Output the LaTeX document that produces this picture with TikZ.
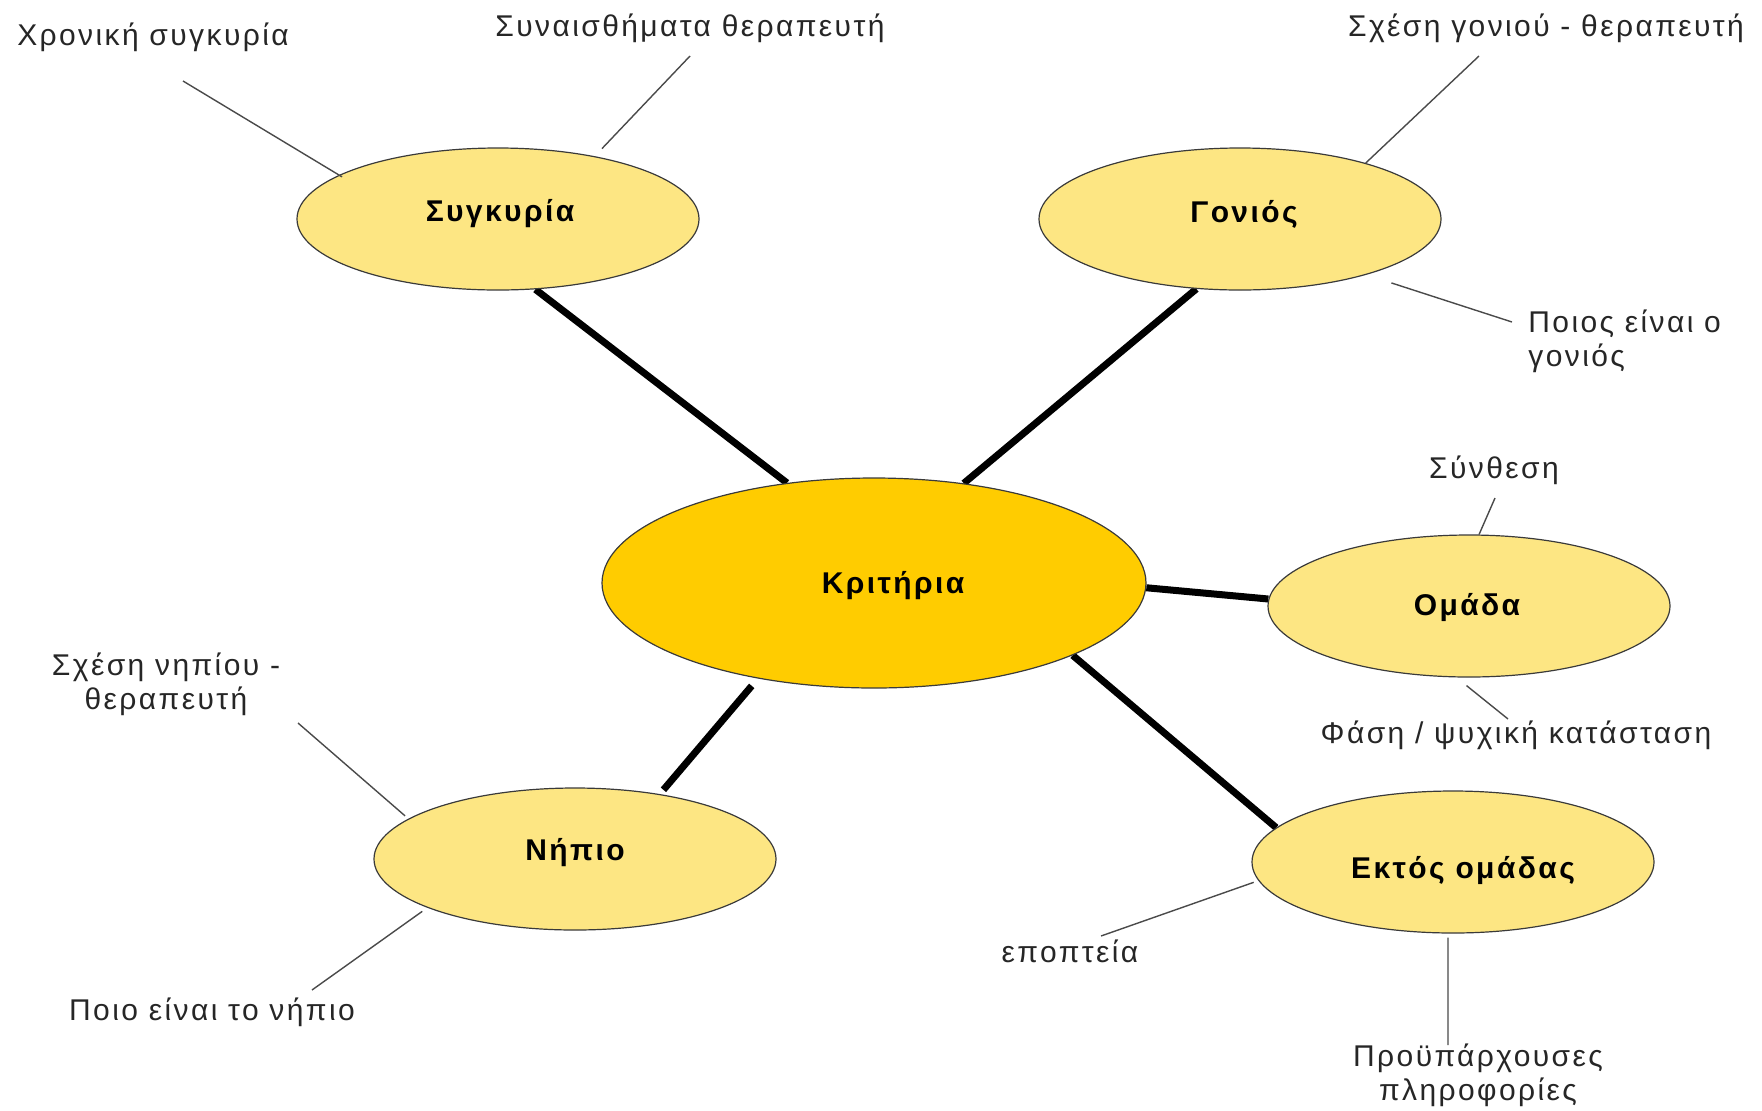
\documentclass[tikz,border=0pt]{standalone}
\usepackage{fontspec}
\setmainfont{Liberation Sans}[LetterSpace=8]
\usetikzlibrary{shapes.geometric,backgrounds}
\definecolor{hubfill}{HTML}{FFCC00}
\definecolor{topicfill}{HTML}{FDE683}
\definecolor{rim}{HTML}{3A3A3A}
\definecolor{leadline}{HTML}{4A4A4A}
\definecolor{labeltext}{HTML}{262626}
\begin{document}
\begin{tikzpicture}[x=0.5pt,y=-0.5pt,
  hub/.style={ellipse,draw=rim,line width=0.6pt,fill=hubfill,inner sep=0pt,
    minimum width=272pt,minimum height=105pt},
  topic/.style={ellipse,draw=rim,line width=0.6pt,fill=topicfill,inner sep=0pt,
    minimum width=201pt,minimum height=71pt},
  title/.style={inner sep=0pt,font=\fontsize{15}{18}\selectfont\bfseries},
  note/.style={inner sep=0pt,text=labeltext,font=\fontsize{15}{17}\selectfont},
  spoke/.style={line width=3.5pt,black},
  lead/.style={line width=0.7pt,leadline}]
\useasboundingbox (0,0) rectangle (1762,1110);

% central criterion and its five topics
\node[hub]   (crit) at (874,583)  {};
\node[topic] (syg)  at (498,219)  {};
\node[topic] (gon)  at (1240,219) {};
\node[topic] (oma)  at (1469,606) {};
\node[topic] (nip)  at (575,859)  {};
\node[topic] (ekt)  at (1453,862) {};

% their titles, set a little off-centre
\node[title] (crit-t) at ([shift={(19,3)}]crit.center)  {Κριτήρια};
\node[title] (syg-t)  at ([shift={(2,-5)}]syg.center)   {Συγκυρία};
\node[title] (gon-t)  at ([shift={(4,-5)}]gon.center)   {Γονιός};
\node[title] (oma-t)  at ([shift={(-2,1)}]oma.center)   {Ομάδα};
\node[title] (nip-t)  at ([shift={(0,-6)}]nip.center)   {Νήπιο};
\node[title] (ekt-t)  at ([shift={(10,8)}]ekt.center)   {Εκτός ομάδας};

% thick spokes from the centre
\begin{scope}[on background layer]
  \draw[spoke] (syg.-62.5) -- (crit.131);
  \draw[spoke] (gon.-122)  -- (crit.48.3);
  \draw[spoke] (oma.178.9) -- (crit.-1);
  \draw[spoke] (ekt.169.8) -- (crit.-20.7);
  \draw[spoke] ([shift={(5,-4)}]nip.38) -- ([shift={(-8,7)}]crit.-140.3);
\end{scope}

% detail labels
\node[note] (t1)  at (153,37)   {Χρονική συγκυρία};
\node[note] (t2)  at (690,28)   {Συναισθήματα θεραπευτή};
\node[note] (t3)  at (1546,28)  {Σχέση γονιού - θεραπευτή};
\node[note,align=left,anchor=west] (t4) at (1528,341) {Ποιος είναι ο\\γονιός};
\node[note] (t5)  at (1494,470) {Σύνθεση};
\node[note] (t6)  at (1516,735) {Φάση / ψυχική κατάσταση};
\node[note,align=center] (t7) at (166,684) {Σχέση νηπίου -\\θεραπευτή};
\node[note] (t8)  at (212,1012) {Ποιο είναι το νήπιο};
\node[note] (t9)  at (1070,951) {εποπτεία};
\node[note,align=center] (t10) at (1478,1075) {Προϋπάρχουσες\\πληροφορίες};

% free ends of the leader lines, next to their labels
\coordinate (e1)  at (183,81);
\coordinate (e2)  at (690,56);
\coordinate (e3)  at (1479,56);
\coordinate (e4)  at (1512,322);
\coordinate (e5)  at (1495,498);
\coordinate (e6)  at (1508,719);
\coordinate (e7)  at (298,723);
\coordinate (e8)  at (312,990);
\coordinate (e9)  at (1101,936);
\coordinate (e10) at (1448,1045);

% thin leader lines
\draw[lead] (e1)  -- ([shift={(5,1)}]syg.165.2);
\draw[lead] (e2)  -- ([shift={(10,-7)}]syg.34.2);
\draw[lead] (e3)  -- (gon.24.8);
\draw[lead] (e4)  -- ([shift={(22,9)}]gon.-23.1);
\draw[lead] (e5)  -- (oma.82);
\draw[lead] (e6)  -- ([yshift=-4pt]oma.-92);
\draw[lead] (e7)  -- ([shift={(-9,0)}]nip.165.8);
\draw[lead] (e8)  -- ([shift={(-4,4)}]nip.198.3);
\draw[lead] (e9)  -- ([xshift=-3pt]ekt.186);
\draw[lead] (e10) -- ([yshift=-2pt]ekt.-94);
\end{tikzpicture}
\end{document}
